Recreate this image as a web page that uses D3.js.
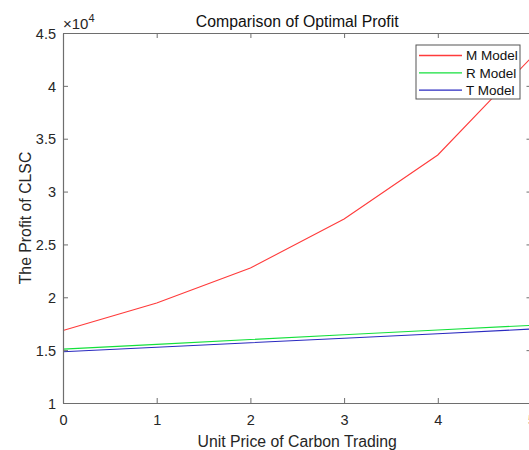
<!DOCTYPE html>
<html>
<head>
<meta charset="utf-8">
<script src="https://cdn.jsdelivr.net/npm/d3@7"></script>
<style>
  html, body { margin: 0; padding: 0; background: #fff; overflow: hidden; }
  svg { display: block; font-family: "Liberation Sans", Arial, Helvetica, sans-serif; }
</style>
</head>
<body>
<svg id="chart" width="529" height="450"></svg>
<script>
// values (profit, scaled by 1e4 on the axis)
var prices = [0, 1, 2, 3, 4, 5];
var mModel = [16850, 19450, 22770, 27400, 33460, 42700];
var rModel = [15100, 15550, 16000, 16450, 16900, 17350];
var tModel = [14850, 15280, 15700, 16130, 16550, 17000];
var xTicks = [0, 1, 2, 3, 4, 5];
var yTicks = [10000, 15000, 20000, 25000, 30000, 35000, 40000, 45000];

var series = [
  { name: "M Model", values: mModel, color: "#ff3b3b" },
  { name: "R Model", values: rModel, color: "#14e03c" },
  { name: "T Model", values: tModel, color: "#2a2ac0" }
];

(function () {
  var svg = d3.select("#chart");
  var pl = 63, pr = 531.5, pt = 33, pb = 403;

  var x = d3.scaleLinear().domain([0, 5]).range([pl, pr]);
  var y = d3.scaleLinear().domain([10000, 45000]).range([pb, pt]);

  var fmt = function (d) { return String(+(d / 1e4).toFixed(1)); };
  var axisCol = "#6e6e6e";

  // lines
  var line = d3.line()
    .x(function (d, i) { return x(prices[i]); })
    .y(function (d) { return y(d); });

  svg.selectAll("path.series")
    .data(series)
    .enter()
    .append("path")
    .attr("class", "series")
    .attr("d", function (s) { return line(s.values); })
    .attr("fill", "none")
    .attr("stroke", function (s) { return s.color; })
    .attr("stroke-width", 1.1);

  // axes, ticks pointing inward
  var gx = svg.append("g").attr("transform", "translate(0," + pb + ")")
    .call(d3.axisBottom(x).tickValues(xTicks).tickSizeInner(-5).tickSizeOuter(0).tickPadding(12).tickFormat(d3.format("d")));
  var gxTop = svg.append("g").attr("transform", "translate(0," + pt + ")")
    .call(d3.axisTop(x).tickValues(xTicks).tickSizeInner(-5).tickSizeOuter(0).tickFormat(""));
  var gy = svg.append("g").attr("transform", "translate(" + pl + ",0)")
    .call(d3.axisLeft(y).tickValues(yTicks).tickSizeInner(-5).tickSizeOuter(0).tickPadding(7).tickFormat(fmt));
  var gyRight = svg.append("g").attr("transform", "translate(" + pr + ",0)")
    .call(d3.axisRight(y).tickValues(yTicks).tickSizeInner(-5).tickSizeOuter(0).tickFormat(""));

  [gx, gxTop, gy, gyRight].forEach(function (g) {
    g.select(".domain").attr("stroke", axisCol).attr("stroke-width", 1.2);
    g.selectAll(".tick line").attr("stroke", axisCol);
    g.selectAll("text").attr("fill", "#262626").attr("font-size", "14.5px")
      .attr("font-family", "\"Liberation Sans\", Arial, sans-serif");
  });
  gy.selectAll("text").attr("dy", "0.36em");

  // exponent label
  var expo = svg.append("text").attr("x", pl).attr("y", 29)
    .attr("fill", "#262626").attr("font-size", "15px");
  expo.append("tspan").text("\u00d710");
  expo.append("tspan").attr("dy", -7).attr("font-size", "11px").text("4");

  // title and axis labels
  svg.append("text").attr("x", (pl + pr) / 2).attr("y", 27)
    .attr("text-anchor", "middle").attr("font-size", "15.8px").attr("fill", "#111")
    .text("Comparison of Optimal Profit");

  svg.append("text").attr("x", (pl + pr) / 2).attr("y", 447)
    .attr("text-anchor", "middle").attr("font-size", "15.8px").attr("fill", "#262626")
    .text("Unit Price of Carbon Trading");

  svg.append("text")
    .attr("transform", "translate(31," + ((pt + pb) / 2) + ") rotate(-90)")
    .attr("text-anchor", "middle").attr("font-size", "15.8px").attr("fill", "#262626")
    .text("The Profit of CLSC");

  // legend
  var lg = svg.append("g").attr("transform", "translate(416,45)");
  lg.append("rect").attr("width", 104).attr("height", 54)
    .attr("fill", "#fff").attr("stroke", "#555").attr("stroke-width", 1);
  var rows = lg.selectAll("g.row").data(series).enter().append("g")
    .attr("class", "row")
    .attr("transform", function (d, i) { return "translate(0," + (10.5 + i * 17.3) + ")"; });
  rows.append("line").attr("x1", 3).attr("x2", 46)
    .attr("stroke", function (d) { return d.color; }).attr("stroke-width", 1.3);
  rows.append("text").attr("x", 50).attr("dy", "0.36em")
    .attr("font-size", "13.5px").attr("fill", "#111")
    .text(function (d) { return d.name; });
})();
</script>
</body>
</html>
